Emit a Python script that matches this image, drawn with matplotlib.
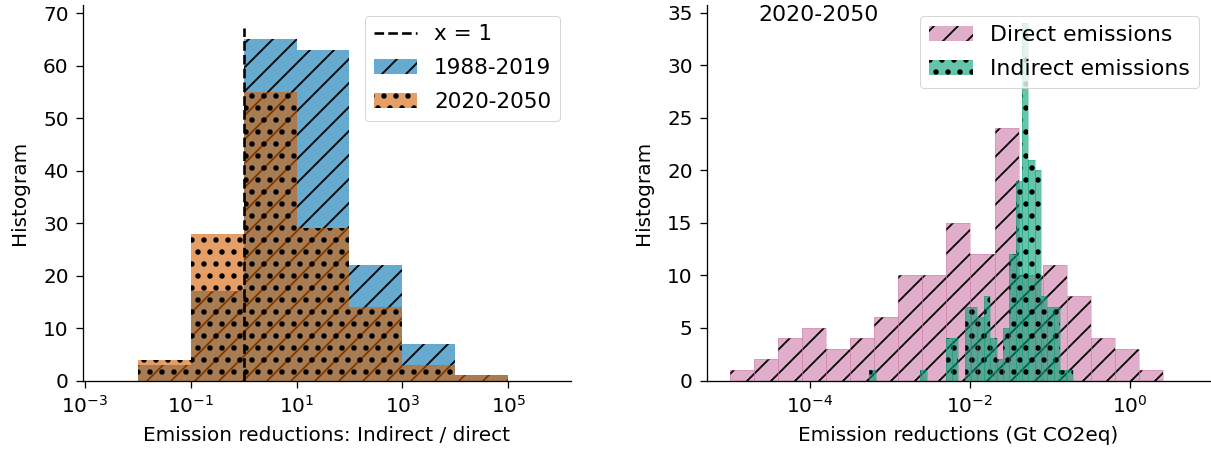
import matplotlib
matplotlib.use("Agg")
import matplotlib.pyplot as plt
import numpy as np
from matplotlib.ticker import NullLocator

# left panel: ratio indirect / direct, one bin per decade
ratio_edges = np.logspace(-3, 6, 10)
counts_1988_2019 = [0, 3, 17, 65, 63, 22, 7, 1, 0]
counts_2020_2050 = [0, 4, 28, 55, 29, 14, 3, 1, 0]

# right panel: emission reductions 2020-2050 (Gt CO2eq)
direct_edges = np.logspace(-5, 0.72, 20)
direct_counts = [1, 2, 4, 5, 3, 4, 6, 10, 10, 15, 12, 24, 10, 11, 8, 4, 3, 1, 0]
indirect_edges = np.logspace(-5, 0.72, 73)
indirect_counts = ([0] * 22 + [1] + [0] * 7 + [1] + [0] * 3 +
                   [4, 4, 0, 7, 7, 6, 8, 4, 2, 5, 12, 19, 34, 21, 20, 8, 7, 7, 1, 1] +
                   [0] * 18)

BLUE = "#0072B2"
VERM = "#D55E00"
GREEN = "#009E73"
PINK = "#CC79A7"

DPI = 72
plt.rcParams.update({
    "font.size": 20,
    "hatch.linewidth": 1.8,
    "axes.linewidth": 1.3,
    "xtick.major.size": 7, "ytick.major.size": 7,
    "xtick.major.width": 1.3, "ytick.major.width": 1.3,
    "xtick.major.pad": 7, "ytick.major.pad": 7,
    "legend.labelspacing": 0.65,
})
DOT_LW = 3.0  # fatter dots for the "." hatch


def dotted(patches):
    for p in patches:
        if hasattr(p, "set_hatch_linewidth"):
            p.set_hatch_linewidth(DOT_LW)


fig = plt.figure(figsize=(1211 / DPI, 455 / DPI), dpi=DPI)
ax1 = fig.add_axes([0.0683, 0.1637, 0.403, 0.825])
ax2 = fig.add_axes([0.5836, 0.1637, 0.4156, 0.825])

# --- left
ax1.axvline(1, ymax=0.94, color="black", ls="--", lw=2.6, label="x = 1", zorder=3)
ax1.hist(ratio_edges[:-1], bins=ratio_edges, weights=counts_1988_2019,
         color=BLUE, alpha=0.6, hatch="/", label="1988-2019")
with plt.rc_context({"hatch.linewidth": DOT_LW}):
    _, _, p = ax1.hist(ratio_edges[:-1], bins=ratio_edges, weights=counts_2020_2050,
                       color=VERM, alpha=0.6, hatch=".", label="2020-2050")
dotted(p)
ax1.set_xscale("log")
ax1.set_xlim(10 ** -3.04, 10 ** 6.18)
ax1.set_ylim(0, 71.5)
ax1.set_xticks([1e-3, 1e-1, 1e1, 1e3, 1e5])
ax1.xaxis.set_minor_locator(NullLocator())
ax1.set_yticks(range(0, 71, 10))
ax1.set_xlabel("Emission reductions: Indirect / direct", labelpad=10)
ax1.set_ylabel("Histogram", labelpad=14)
leg1 = ax1.legend(loc="upper right", fontsize=21.5)
dotted(leg1.get_patches()[1:])

# --- right
ax2.hist(direct_edges[:-1], bins=direct_edges, weights=direct_counts,
         color=PINK, alpha=0.6, hatch="/", label="Direct emissions")
ax2.hist(direct_edges[:-1], bins=direct_edges, weights=direct_counts,
         fill=False, edgecolor=PINK, alpha=0.5, lw=0.8)
with plt.rc_context({"hatch.linewidth": DOT_LW}):
    _, _, p = ax2.hist(indirect_edges[:-1], bins=indirect_edges, weights=indirect_counts,
                       color=GREEN, alpha=0.6, hatch=".", label="Indirect emissions")
dotted(p)
ax2.hist(indirect_edges[:-1], bins=indirect_edges, weights=indirect_counts,
         fill=False, edgecolor=GREEN, alpha=0.4, lw=0.8)
ax2.set_xscale("log")
ax2.set_xticks([1e-4, 1e-2, 1e0])
ax2.xaxis.set_minor_locator(NullLocator())
ax2.set_yticks(range(0, 36, 5))
ax2.set_xlabel("Emission reductions (Gt CO2eq)", labelpad=10)
ax2.set_ylabel("Histogram", labelpad=14)
ax2.text(0.223, 0.973, "2020-2050", transform=ax2.transAxes,
         ha="center", va="center", fontsize=22)
leg2 = ax2.legend(loc="upper right", fontsize=22)
dotted(leg2.get_patches()[1:])

for ax in (ax1, ax2):
    ax.spines["top"].set_visible(False)
    ax.spines["right"].set_visible(False)

fig.savefig("out.png", dpi=DPI, facecolor="white")
